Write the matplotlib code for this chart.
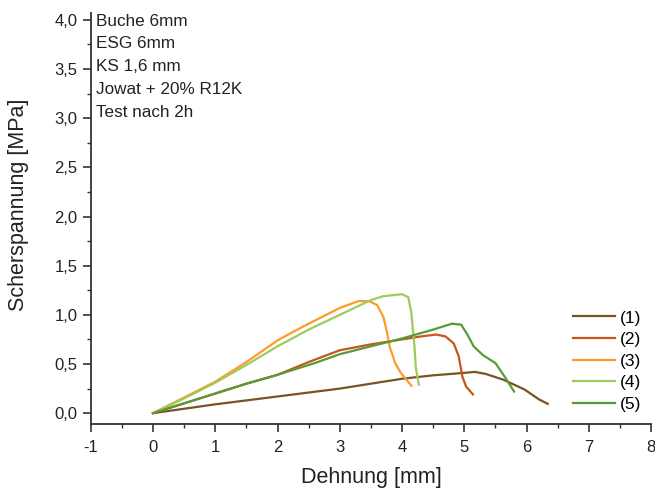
import numpy as np
import matplotlib
matplotlib.use("Agg")
import matplotlib.pyplot as plt
from matplotlib.ticker import MultipleLocator, FuncFormatter

plt.rcParams['font.family'] = ['Liberation Sans', 'DejaVu Sans']

# ---- data (Dehnung [mm], Scherspannung [MPa]) ----
x1 = [0, 0.5, 1, 1.5, 2, 2.5, 3, 3.5, 4, 4.5, 5, 5.17, 5.34, 5.63, 5.97, 6.2, 6.34]
y1 = [0, 0.045, 0.09, 0.13, 0.17, 0.21, 0.25, 0.30, 0.35, 0.385, 0.41, 0.42, 0.40, 0.34, 0.24, 0.14, 0.095]

x2 = [0, 0.5, 1, 1.5, 2, 2.5, 3, 3.5, 4, 4.3, 4.55, 4.7, 4.83, 4.91, 4.97, 5.03, 5.14]
y2 = [0, 0.10, 0.20, 0.30, 0.39, 0.52, 0.64, 0.70, 0.75, 0.78, 0.80, 0.78, 0.71, 0.58, 0.37, 0.27, 0.19]

x3 = [0, 0.5, 1, 1.5, 2, 2.2, 2.5, 3, 3.3, 3.47, 3.6, 3.7, 3.75, 3.8, 3.89, 3.98, 4.15]
y3 = [0, 0.16, 0.32, 0.52, 0.74, 0.81, 0.91, 1.07, 1.14, 1.14, 1.10, 0.98, 0.85, 0.68, 0.51, 0.41, 0.28]

x4 = [0, 0.5, 1, 1.5, 2, 2.5, 3, 3.5, 3.7, 4.0, 4.1, 4.15, 4.2, 4.22, 4.27]
y4 = [0, 0.15, 0.31, 0.49, 0.68, 0.85, 1.00, 1.15, 1.19, 1.21, 1.18, 1.02, 0.68, 0.47, 0.29]

x5 = [0, 0.5, 1, 1.5, 2, 2.6, 3, 3.5, 4, 4.5, 4.8, 4.95, 5.05, 5.15, 5.3, 5.5, 5.65, 5.8]
y5 = [0, 0.10, 0.20, 0.30, 0.39, 0.51, 0.60, 0.68, 0.76, 0.85, 0.91, 0.90, 0.80, 0.68, 0.59, 0.51, 0.37, 0.22]

labels = ["(1)", "(2)", "(3)", "(4)", "(5)"]
colors = ["#7b5223", "#c8561a", "#ff9a2a", "#9dcb5c", "#579a36"]
info_text = ["Buche 6mm", "ESG 6mm", "KS 1,6 mm", "Jowat + 20% R12K", "Test nach 2h"]

fig = plt.figure(figsize=(6.55, 4.94), dpi=100)
ax = fig.add_axes([0.1385, 0.1417, 0.8555, 0.832])

for xs, ys, lab, col in zip([x1, x2, x3, x4, x5], [y1, y2, y3, y4, y5], labels, colors):
    ax.plot(xs, ys, color=col, lw=1.6, label=lab)

ax.set_xlim(-1, 8)
ax.set_ylim(-0.11, 4.07)
ax.xaxis.set_major_locator(MultipleLocator(1))
ax.xaxis.set_minor_locator(MultipleLocator(0.5))
ax.yaxis.set_minor_locator(MultipleLocator(0.25))
ax.set_yticks([v * 0.5 for v in range(9)])
ax.yaxis.set_major_formatter(FuncFormatter(lambda v, p: f"{v:.1f}".replace('.', ',')))
ax.xaxis.set_major_formatter(FuncFormatter(lambda v, p: f"{v:.0f}"))

for s in ['top', 'right']:
    ax.spines[s].set_visible(False)
for s in ['left', 'bottom']:
    ax.spines[s].set_color('#333333')
    ax.spines[s].set_linewidth(1.3)
ax.tick_params(which='major', direction='out', length=5.5, width=1.2, color='#333333',
               labelsize=12, labelcolor='#222222')
ax.tick_params(which='minor', direction='out', length=3, width=1.0, color='#333333')
ax.tick_params(axis='x', which='major', pad=6)
ax.tick_params(axis='y', which='major', pad=4)

ax.set_xlabel("Dehnung [mm]", fontsize=15.5, color='#222222')
ax.set_ylabel("Scherspannung [MPa]", fontsize=15.5, color='#222222')
ax.xaxis.set_label_coords(0.5, -0.105)
ax.yaxis.set_label_coords(-0.11, 0.533)

for i, t in enumerate(info_text):
    ax.text(0.0095, 0.9805 - i * 0.0555, t, transform=ax.transAxes, fontsize=12.3,
            color='#222222', va='center', ha='left')

ax.legend(loc='center left', bbox_to_anchor=(0.861, 0.153), frameon=False, fontsize=12.5,
          handlelength=2.4, labelspacing=0.37, handletextpad=0.3,
          borderpad=0, borderaxespad=0)

fig.savefig("out.png", dpi=100)
